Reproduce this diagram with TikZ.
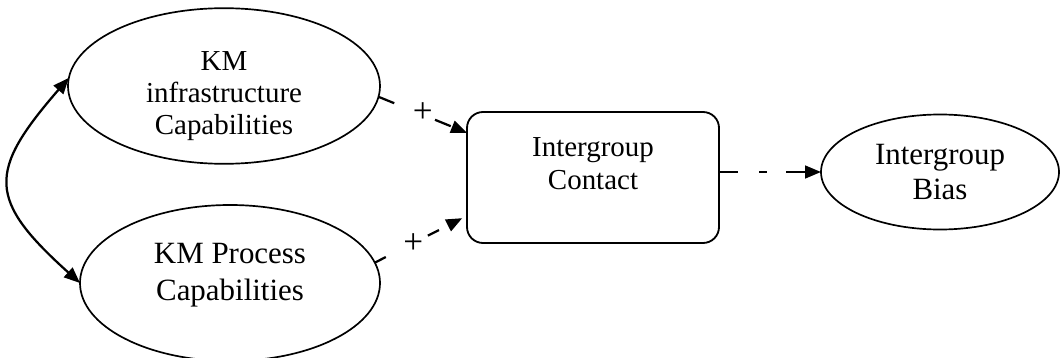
\documentclass[tikz,border=0pt]{standalone}
\usepackage{fontspec}
\setmainfont{Liberation Serif}
\usetikzlibrary{shapes.geometric,arrows.meta}

\begin{document}
\begin{tikzpicture}
    % Define the styles for the constructs and arrows
    \tikzstyle{construct}=[ellipse, draw=black, line width=1.2pt, align=center, inner sep=0pt, outer sep=0pt]
    \tikzstyle{mediator}=[rectangle, rounded corners=0.4cm, draw=black, line width=1.3pt, align=center, outer sep=0pt]
    \tikzstyle{arrow}=[line width=1.6pt, -{Triangle[length=0.4cm,width=0.32cm]}]
    \tikzstyle{effect}=[inner sep=0pt, font={\fontsize{25}{27}\selectfont}]

    \useasboundingbox (0,0) rectangle (26.5,-8.95);

    % Draw the constructs
    \node[construct, minimum width=7.8cm, minimum height=3.85cm, font={\fontsize{20.6}{23}\selectfont}] (infra) at (5.6,-2.15) {\rule{0pt}{0.98cm}KM\\infrastructure\\Capabilities};
    \node[construct, minimum width=7.5cm, minimum height=3.9cm, text depth=0.55cm, font={\fontsize{22}{26.3}\selectfont}] (process) at (5.75,-7.075) {KM Process\\Capabilities};
    \node[mediator, minimum width=6.3cm, minimum height=3.275cm, text depth=0.7cm, font={\fontsize{20.6}{23.5}\selectfont}] (contact) at (14.825,-4.4375) {Intergroup\\Contact};
    \node[construct, minimum width=5.95cm, minimum height=2.875cm, font={\fontsize{22}{24.9}\selectfont}] (bias) at (23.5,-4.3) {Intergroup\\Bias};

    % Draw the arrows between the constructs
    \draw[arrow, dash pattern=on 0.425cm off 1.1cm] (infra.-4) -- node[effect, pos=0.5, yshift=0.05cm] {+} ([yshift=-0.52cm]contact.north west);
    \draw[arrow, dash pattern=on 0.31cm off 1.18cm] (process.8) -- node[effect, pos=0.44] {+} ([xshift=-0.12cm,yshift=0.62cm]contact.south west);
    \draw[arrow, dash pattern=on 0.475cm off 0.525cm on 0.2cm off 0.475cm] (contact.east |- bias.west) -- (bias.west);
    \draw[arrow, {Triangle[length=0.4cm,width=0.32cm]}-{Triangle[length=0.4cm,width=0.32cm]}] (infra.177) to[out=229, in=138, looseness=1.55] (process.west);
\end{tikzpicture}
\end{document}
